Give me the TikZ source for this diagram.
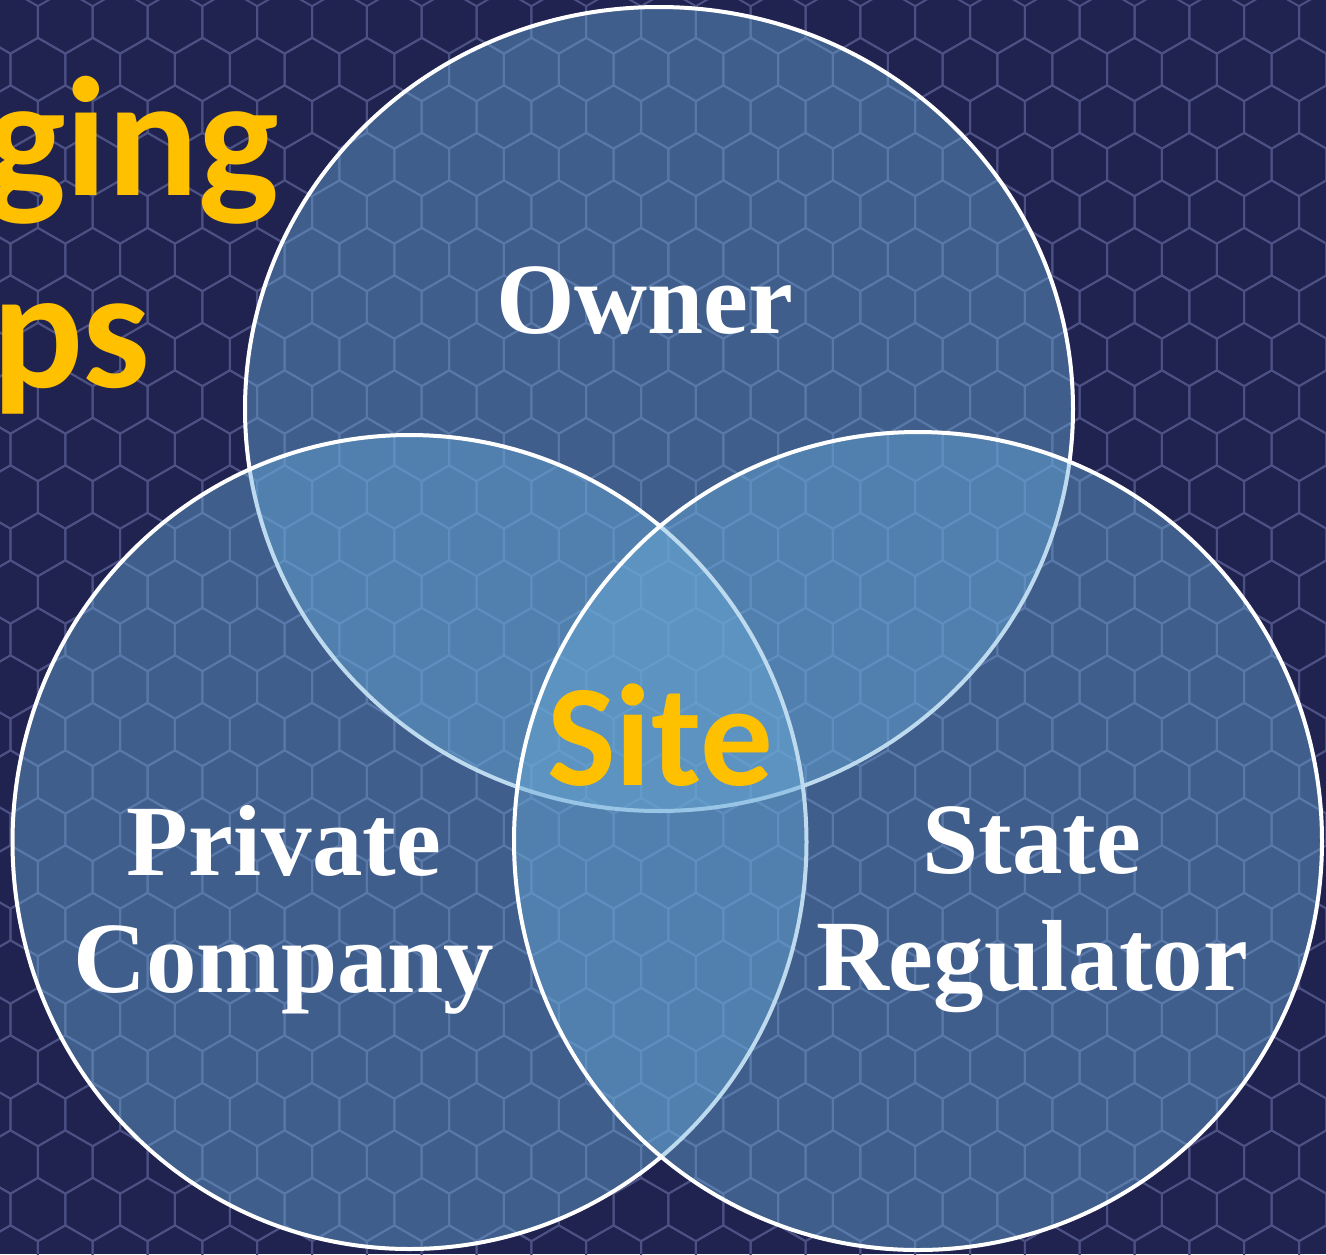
\documentclass[tikz,border=0pt]{standalone}
\usepackage{fontspec}
\setmainfont{Liberation Serif}
\newfontfamily\calibri{Carlito}
\definecolor{navy}{RGB}{32,34,80}
\definecolor{hexline}{RGB}{76,81,132}
\definecolor{venn}{RGB}{105,172,218}
\definecolor{gold}{RGB}{255,192,0}
\begin{document}
\begin{tikzpicture}[x=1pt, y=-1pt, ring/.style={draw=white, line width=4pt, fill=venn, fill opacity=0.44}, hexa/.style={draw=hexline, line width=2pt, line join=round}, lbl/.style={text=white, font=\bfseries\fontsize{101}{117}\selectfont, align=center, anchor=base}, hot/.style={text=gold}]
		\useasboundingbox (0,0) rectangle (1326,1254);
		\fill[navy] (0,0) rectangle (1326,1254);
		\begin{scope}
			\clip (0,0) rectangle (1326,1254);
			\foreach \r in {0,...,26} {
				\foreach \c in {-1,...,24} {
					\pgfmathsetmacro{\cx}{10.5+54.83*\c+27.415*mod(\r,2)}
					\pgfmathsetmacro{\cy}{22+47.5*\r}
					\draw[hexa] (\cx,\cy) +(30:31.66) -- +(90:31.66) -- +(150:31.66) -- +(210:31.66) -- +(270:31.66) -- +(330:31.66) -- cycle;
				}
			}
		\end{scope}
		
		\draw[ring] (659,409) ellipse [x radius=414, y radius=402];
		\draw[ring] (409.5,842) ellipse [x radius=397, y radius=407];
		\draw[ring] (918,841) ellipse [x radius=404, y radius=409];
		
		\node[lbl] (owner) at (645,333) {Owner};
		\node[lbl] (company) at (284,992) {Private\\Company};
		\node[lbl] (regulator) at (1032,990) {State\\Regulator};
		\node[hot, font=\calibri\bfseries\fontsize{145}{160}\selectfont, anchor=base] (site) at (660,785) {Site};
		\node[hot, font=\calibri\bfseries\fontsize{170}{190}\selectfont, anchor=base east] (ging) at (283,195) {ging};
		\node[hot, font=\calibri\bfseries\fontsize{170}{190}\selectfont, anchor=base east] (ps) at (154,387) {ps};
	\end{tikzpicture}
\end{document}
